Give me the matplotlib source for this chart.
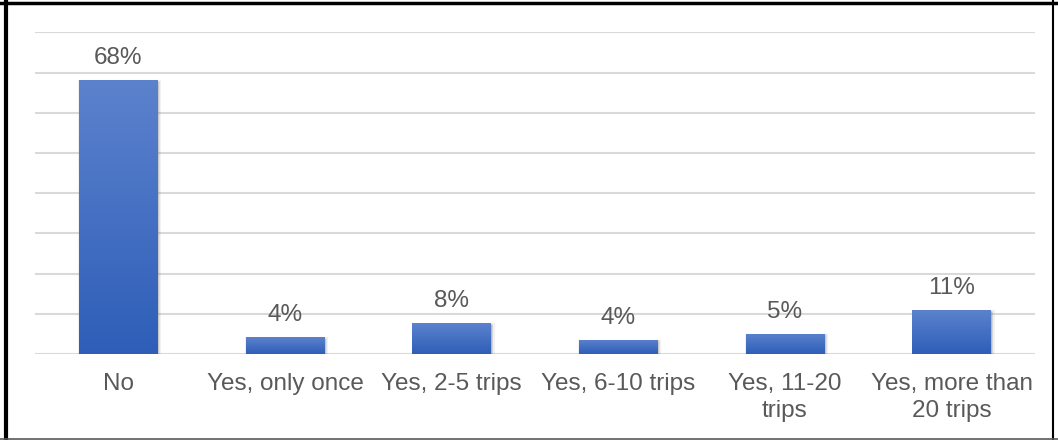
import matplotlib
matplotlib.use("Agg")
import matplotlib.pyplot as plt
import matplotlib.transforms as mtransforms
from matplotlib.lines import Line2D
import numpy as np

categories = ["No", "Yes, only once", "Yes, 2-5 trips", "Yes, 6-10 trips",
              "Yes, 11-20\ntrips", "Yes, more than\n20 trips"]
values = [68.1, 4.2, 7.7, 3.5, 5.0, 10.9]
value_labels = ["68%", "4%", "8%", "4%", "5%", "11%"]
y_ticks = [0, 10, 20, 30, 40, 50, 60, 70, 80]

plt.rcParams['font.family'] = ['Liberation Sans', 'DejaVu Sans']
W, H = 1058, 440
fig = plt.figure(figsize=(W / 100, H / 100), dpi=100)
fig.patch.set_facecolor('white')

ax = fig.add_axes([35 / W, (H - 354) / H, 1000 / W, (354 - 32.5) / H])
ax.set_xlim(-0.5, len(categories) - 0.5)
ax.set_ylim(0, 80)
ax.set_yticks(y_ticks)
ax.yaxis.grid(True, color='#D9D9D9', linewidth=1.5)
ax.set_axisbelow(True)
for s in ax.spines.values():
    s.set_visible(False)
ax.tick_params(axis='y', left=False, labelleft=False)
ax.tick_params(axis='x', length=0, pad=13.5, labelsize=17.5, labelcolor='#595959')
x = np.arange(len(categories))
ax.set_xticks(x)
ax.set_xticklabels(categories, linespacing=1.3)

width = 0.474
# shadows
for dx, dy, a, grow in [(1.5, -2.0, 0.10, 3), (1.0, -1.5, 0.15, 1.5), (0.5, -1.0, 0.2, 0)]:
    off = mtransforms.offset_copy(ax.transData, fig=fig, x=dx, y=dy, units='dots')
    ax.bar(x, values, width=width, color='#7f7f7f', alpha=a, transform=off, zorder=2,
           linewidth=grow, edgecolor=(0.5, 0.5, 0.5, a))

bars = ax.bar(x, values, width=width, color='#4472C4', zorder=3)

top_c = np.array([92, 130, 205]) / 255
bot_c = np.array([46, 94, 184]) / 255
t = np.linspace(0, 1, 256)[:, None]
grad = (bot_c[None, None, :] * (1 - t[:, :, None]) + top_c[None, None, :] * t[:, :, None])
for b in bars:
    x0, w, h = b.get_x(), b.get_width(), b.get_height()
    im = ax.imshow(grad, extent=[x0, x0 + w, 0, h], origin='lower', aspect='auto',
                   zorder=4, interpolation='bilinear')
    im.set_clip_path(b)

ax.set_xlim(-0.5, len(categories) - 0.5)
ax.set_ylim(0, 80)

for xi, v, lab in zip(x, values, value_labels):
    ax.annotate(lab, (xi, v), xytext=(0, 8), textcoords='offset points',
                ha='center', va='bottom', fontsize=17.5, color='#595959')

# border
fig.add_artist(Line2D([6 / W, 6 / W], [0, 1], transform=fig.transFigure, color='black', lw=3))
fig.add_artist(Line2D([0, 1], [1 - 3.5 / H, 1 - 3.5 / H], transform=fig.transFigure, color='black', lw=2.5))
fig.add_artist(Line2D([1053 / W, 1053 / W], [0, 1], transform=fig.transFigure, color='black', lw=1.5))
fig.add_artist(Line2D([0, 1], [0.8 / H, 0.8 / H], transform=fig.transFigure, color='#595959', lw=1.2))

fig.savefig('out.png', dpi=100, facecolor='white')
